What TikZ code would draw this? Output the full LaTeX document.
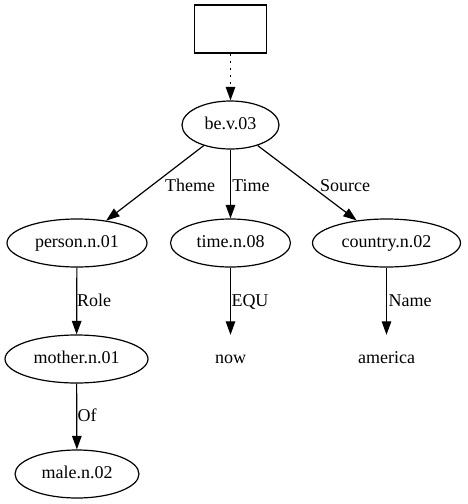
\documentclass[tikz,border=0pt]{standalone}
\usepackage{fontspec}
\setmainfont{Liberation Serif}
\usetikzlibrary{arrows.meta,shapes.geometric}
\begin{document}
\begin{tikzpicture}[x=1pt,y=-1pt,
  every node/.style={font=\fontsize{18}{20}\selectfont, text height=12.3pt, text depth=3.9pt, inner sep=0pt},
  concept/.style={ellipse, draw, line width=1.2pt, minimum height=48pt},
  rootbox/.style={rectangle, draw, line width=1.2pt, minimum width=72pt, minimum height=48pt},
  leaf/.style={rectangle, minimum height=48pt},
  rel/.style={line width=1.2pt, -{Triangle[length=13.5pt,width=9.5pt]}},
  dottedrel/.style={line width=1.3pt, dash pattern=on 2pt off 5pt, shorten >=13.5pt},
  lbl/.style={}]
\useasboundingbox[fill=white] (0,0) rectangle (467,504);

% nodes
\node[rootbox] (top) at (230.5,29) {};
\node[concept, minimum width=97pt]  (be)      at (230.5,125) {be.v.03};
\node[concept, minimum width=140pt] (person)  at (77,243)    {person.n.01};
\node[concept, minimum width=120pt] (time)    at (230.5,243) {time.n.08};
\node[concept, minimum width=148pt] (country) at (386.5,243) {country.n.02};
\node[concept, minimum width=143pt] (mother)  at (76.5,359)  {mother.n.01};
\node[leaf] (now)     at (230.5,359) {now};
\node[leaf] (america) at (386.5,359) {america};
\node[concept, minimum width=124pt] (male)    at (77,474)    {male.n.02};

% dotted connector: dotted shaft, solid head
\coordinate (headbase) at ([yshift=13.5pt]be.north);
\draw[dottedrel] (top) -- (be);
\draw[rel] (headbase) -- (be.north);

% connectors
\draw[rel] (be) -- (person);
\draw[rel] (be) -- (time);
\draw[rel] (be) -- (country);
\draw[rel] (person) -- (mother);
\draw[rel] (time) -- (now);
\draw[rel] (country) -- (america);
\draw[rel] (mother) -- (male);

% connector labels
\node[lbl] (lTheme)  at (190,187)   {Theme};
\node[lbl] (lTime)   at (251,187)   {Time};
\node[lbl] (lSource) at (345,187)   {Source};
\node[lbl] (lRole)   at (94,302.5)  {Role};
\node[lbl] (lEQU)    at (250,302.5) {EQU};
\node[lbl] (lName)   at (410,302.5) {Name};
\node[lbl] (lOf)     at (87,417)    {Of};
\end{tikzpicture}
\end{document}
